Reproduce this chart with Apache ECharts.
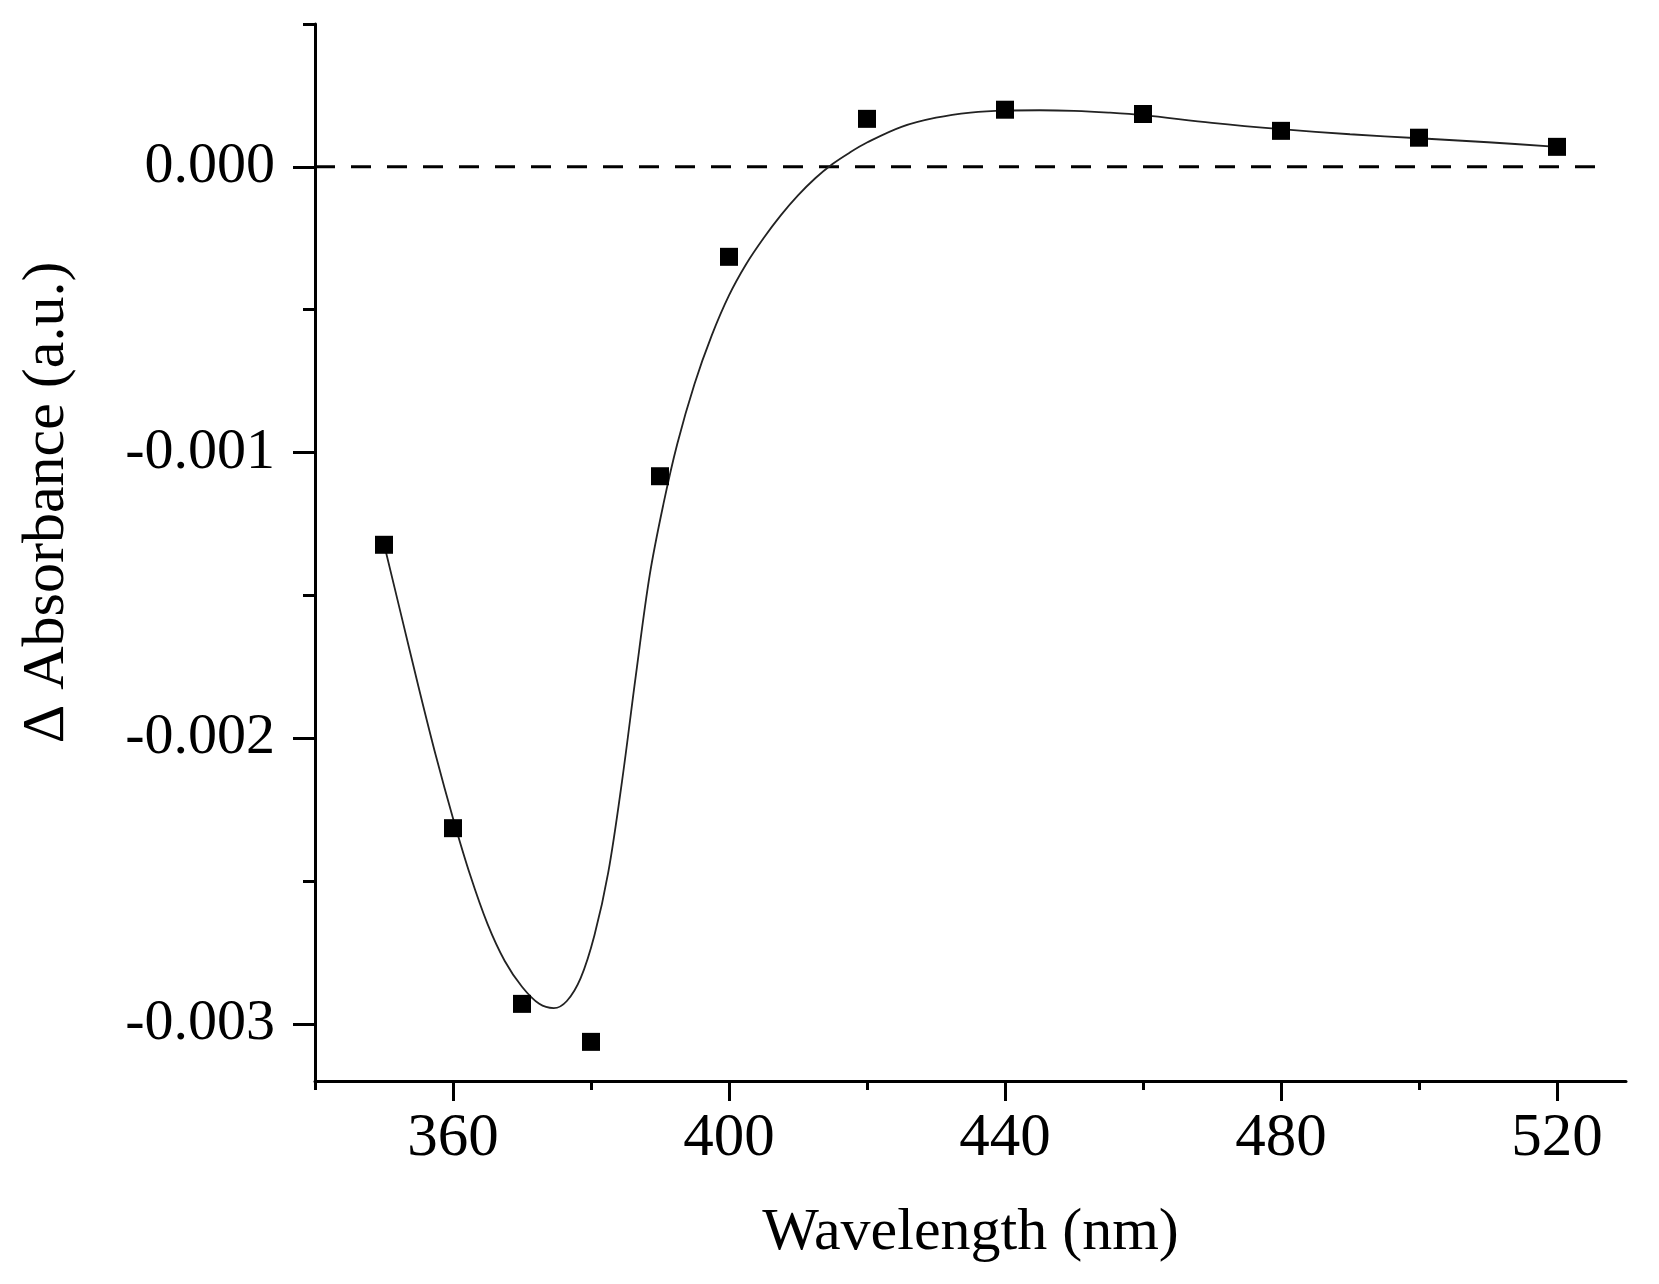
<!DOCTYPE html>
<html>
<head>
<meta charset="utf-8">
<script src="https://cdn.jsdelivr.net/npm/echarts@6/dist/echarts.min.js"></script>
<style>
  html, body { margin: 0; padding: 0; background: #fff; }
  #chart { width: 1659px; height: 1284px; }
</style>
</head>
<body>
<div id="chart"></div>
<script>
// measured points (nm, delta absorbance)
const wavelengths = [350, 360, 370, 380, 390, 400, 420, 440, 460, 480, 500, 520];
const deltaAbs = [-0.001323, -0.002315, -0.00293, -0.003063, -0.001083, -0.000315,
  0.000168, 0.0002, 0.000185, 0.000126, 0.000102, 0.00007];

// fitted curve
const fitX = [350, 352.5, 355, 357.5, 360, 362.5, 365, 367.5, 370, 372.5, 374.6, 376.5,
  378.5, 380.5, 382.5, 384.5, 386.5, 388.5, 390.5, 392.5, 395, 397.5, 400, 402.5,
  405, 407.5, 410, 412.5, 415, 417.5, 420, 425, 430, 435, 440, 445, 450, 455, 460,
  470, 480, 490, 500, 510, 520];
const fitY = [-0.00132, -0.00157, -0.00182, -0.00206, -0.00228, -0.00248, -0.00265,
  -0.00278, -0.00287, -0.00293, -0.002945, -0.00292, -0.00284, -0.00269, -0.00247,
  -0.00215, -0.00178, -0.00143, -0.00118, -0.00097, -0.00076, -0.00059, -0.00045,
  -0.00034, -0.00025, -0.00017, -0.0001, -0.00004, 0.00001, 0.00005, 0.000085,
  0.00014, 0.000172, 0.00019, 0.000197, 0.000198, 0.000196, 0.00019, 0.000181,
  0.000154, 0.000132, 0.000114, 0.0001, 0.000086, 0.00007];

// zero reference line
const zeroLineX = [340, 526];

// ticks
const xMajor = [360, 400, 440, 480, 520];
const xMinor = [340, 380, 420, 460, 500];
const yMajor = [0, -0.001, -0.002, -0.003];
const yMinor = [0.0005, -0.0005, -0.0015, -0.0025];

const FONT = '"Liberation Serif", "DejaVu Serif", serif';
const INK = '#000';

const chart = echarts.init(document.getElementById('chart'));

const baseX = {
  type: 'value',
  min: 340,
  max: 530,
  position: 'bottom',
  splitLine: { show: false }
};
const baseY = {
  type: 'value',
  min: -0.0032,
  max: 0.0005,
  position: 'left',
  splitLine: { show: false }
};

const option = {
  backgroundColor: '#fff',
  animation: false,
  grid: { left: 315, right: 33, top: 24, bottom: 203 },
  xAxis: [
    Object.assign({}, baseX, {
      name: 'Wavelength (nm)',
      nameLocation: 'middle',
      nameGap: 122,
      nameTextStyle: { fontFamily: FONT, fontSize: 60, color: INK },
      axisLine: { show: true, onZero: false, lineStyle: { color: INK, width: 3 } },
      axisTick: { show: true, length: 20, lineStyle: { color: INK, width: 3 }, customValues: xMajor },
      axisLabel: {
        customValues: xMajor, margin: 27,
        fontFamily: FONT, fontSize: 61, color: INK
      }
    }),
    Object.assign({}, baseX, {
      axisLine: { show: false, onZero: false },
      axisTick: { show: true, length: 9, lineStyle: { color: INK, width: 3 }, customValues: xMinor },
      axisLabel: { show: false }
    })
  ],
  yAxis: [
    Object.assign({}, baseY, {
      name: 'Δ Absorbance (a.u.)',
      nameLocation: 'middle',
      nameGap: 238,
      nameTextStyle: { fontFamily: FONT, fontSize: 60, color: INK, padding: [0, 0, 0, 100] },
      axisLine: { show: true, onZero: false, lineStyle: { color: INK, width: 3 } },
      axisTick: { show: true, length: 22, lineStyle: { color: INK, width: 3 }, customValues: yMajor },
      axisLabel: {
        customValues: yMajor, margin: 40,
        fontFamily: FONT, fontSize: 58, color: INK,
        formatter: function (v) { return v.toFixed(3); }
      }
    }),
    Object.assign({}, baseY, {
      axisLine: { show: false, onZero: false },
      axisTick: { show: true, length: 12, lineStyle: { color: INK, width: 3 }, customValues: yMinor },
      axisLabel: { show: false }
    })
  ],
  series: [
    {
      name: 'zero',
      type: 'line',
      data: zeroLineX.map(function (x) { return [x, 0]; }),
      symbol: 'none',
      lineStyle: { color: INK, width: 3, type: [20, 16] },
      silent: true,
      z: 1
    },
    {
      name: 'fit',
      type: 'line',
      data: fitX.map(function (x, i) { return [x, fitY[i]]; }),
      symbol: 'none',
      smooth: 0.35,
      lineStyle: { color: '#222', width: 1.8 },
      z: 2
    },
    {
      name: 'data',
      type: 'scatter',
      data: wavelengths.map(function (x, i) { return [x, deltaAbs[i]]; }),
      symbol: 'rect',
      symbolSize: 18,
      itemStyle: { color: INK, opacity: 1 },
      z: 3
    }
  ]
};

chart.setOption(option);
</script>
</body>
</html>
